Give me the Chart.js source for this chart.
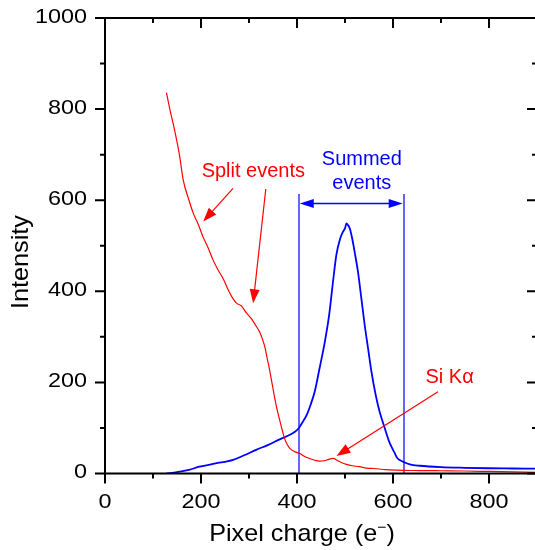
<!DOCTYPE html>
<html>
<head>
<meta charset="utf-8">
<script src="https://cdn.jsdelivr.net/npm/chart.js@4.4.1/dist/chart.umd.min.js"></script>
<style>
html,body{margin:0;padding:0;background:#fff;overflow:hidden;}
#wrap{width:545px;height:550px;position:relative;}
</style>
</head>
<body>
<div id="wrap"><canvas id="c" width="545" height="550"></canvas></div>
<script>
// ---- data ----
const splitX = [128,135,145,155,163,175,184,195,204,215,225,235,246,258,266,274,284,295,305,314,322,328,333,338,343,348,353,358,364,369,374,380,385,395,406,415,426,437,447,457,466,475,485,495,503,515,530,545,560,585,620,655,700,750,800,850,900];
const splitY = [836,800,754,700,644,600,571,545,520,495,469,448,428,400,385,374,368,352,340,325,311,295,278,252,227,198,169,143,117,96,77,63,55,48,44,38,33,29,27,28,31,33,28,23,20,17,15,12,11,8.5,7,6.5,6,5.5,4.5,3.5,2.5];
const sumX = [128,150,175,197,230,267,290,315,340,364,375,385,395,404,413,420,428,437,447,458,467,475,482,490,496,500,503,505,510,515,520,527,534,541,548,555,564,572,583,592,600,604,608,614,625,635,656,700,750,800,850,900];
const sumY = [0,3,8,15,22,30,40,52,63,75,80,85,91,100,115,128,150,180,231,289,348,421,480,516,531,538,549,547,538,516,487,443,385,326,275,224,172,136,99,70,52,44,35,29.6,24,20,17,14,12.5,11.5,11,10.5];
const xTicks = [0,200,400,600,800];
const yTicks = [0,200,400,600,800,1000];
const xMinor = [100,300,500,700,900];
const yMinor = [100,300,500,700,900];
const xTitle = "Pixel charge (e";
const yTitle = "Intensity";
// annotation anchors (data units)
const windowX = [403.7, 622.3];
const windowTop = 613.6;
const windowArrowY = 593;
const splitLabel = {text:"Split events", x:309, y:650};
const summedLabel = [{text:"Summed", x:535, y:677},{text:"events", x:535, y:624}];
const siLabel = {text:"Si K\u03B1", x:718, y:199};
const redArrows = [
  {x0:266.7, y0:626, x1:204.6, y1:553},
  {x0:335, y0:624.5, x1:308.6, y1:373.6},
  {x0:693.7, y0:179.6, x1:482.2, y1:38.4}
];

const RED = '#ff0000', BLUE = '#0000ff', LBLUE = '#6666ff';
const FONT = '"Liberation Sans", Arial, sans-serif';

function head(ctx, x0, y0, x1, y1, len, half, color){
  const a = Math.atan2(y1-y0, x1-x0);
  ctx.save();
  ctx.fillStyle = color;
  ctx.beginPath();
  ctx.moveTo(x1, y1);
  ctx.lineTo(x1 - len*Math.cos(a) + half*Math.sin(a), y1 - len*Math.sin(a) - half*Math.cos(a));
  ctx.lineTo(x1 - len*Math.cos(a) - half*Math.sin(a), y1 - len*Math.sin(a) + half*Math.cos(a));
  ctx.closePath();
  ctx.fill();
  ctx.restore();
}

const deco = {
  id:'deco',
  beforeDatasetsDraw(chart){
    const ctx = chart.ctx, xs = chart.scales.x, ys = chart.scales.y;
    ctx.save();
    ctx.strokeStyle = LBLUE; ctx.lineWidth = 2;
    windowX.forEach(v=>{
      const px = Math.round(xs.getPixelForValue(v));
      ctx.beginPath();
      ctx.moveTo(px, ys.getPixelForValue(windowTop));
      ctx.lineTo(px, ys.getPixelForValue(0));
      ctx.stroke();
    });
    ctx.restore();
  },
  afterDraw(chart){
    const ctx = chart.ctx, xs = chart.scales.x, ys = chart.scales.y, a = chart.chartArea;
    ctx.save();
    // frame
    ctx.strokeStyle = '#000'; ctx.lineWidth = 2;
    ctx.beginPath();
    ctx.moveTo(a.left, a.top); ctx.lineTo(a.right, a.top);
    ctx.lineTo(a.right, a.bottom); ctx.lineTo(a.left, a.bottom); ctx.closePath();
    ctx.stroke();
    // ticks
    const tick = (vals, len) => {
      vals.forEach(v=>{
        const px = xs.getPixelForValue(v);
        ctx.beginPath();
        ctx.moveTo(px, a.bottom); ctx.lineTo(px, a.bottom + len);
        ctx.moveTo(px, a.top); ctx.lineTo(px, a.top + len);
        ctx.stroke();
      });
    };
    tick(xTicks, 10); tick(xMinor, 5);
    const ytick = (vals, len) => {
      vals.forEach(v=>{
        const py = ys.getPixelForValue(v);
        ctx.beginPath();
        ctx.moveTo(a.left, py); ctx.lineTo(a.left - len, py);
        ctx.moveTo(a.right, py); ctx.lineTo(a.right - len, py);
        ctx.stroke();
      });
    };
    ytick(yTicks, 10); ytick(yMinor, 5);
    // tick labels
    ctx.fillStyle = '#000';
    ctx.font = '20px ' + FONT;
    ctx.textBaseline = 'middle';
    const sx = 1.17;
    xTicks.forEach(v=>{
      const px = xs.getPixelForValue(v);
      ctx.save(); ctx.translate(px, a.bottom + 29); ctx.scale(sx,1);
      ctx.textAlign = 'center'; ctx.fillText(String(v), 0, 0); ctx.restore();
    });
    yTicks.forEach(v=>{
      const py = ys.getPixelForValue(v);
      ctx.save(); ctx.translate(a.left - 18, py - 1); ctx.scale(sx,1);
      ctx.textAlign = 'right'; ctx.fillText(String(v), 0, 0); ctx.restore();
    });
    // axis titles
    ctx.font = '24px ' + FONT;
    ctx.textBaseline = 'alphabetic';
    ctx.save();
    ctx.translate(302, a.bottom + 67); ctx.scale(1.05,1);
    const w1 = ctx.measureText(xTitle).width;
    ctx.font = '15px ' + FONT;
    const w2 = ctx.measureText('\u2212').width;
    ctx.font = '24px ' + FONT;
    const w3 = ctx.measureText(')').width;
    let x0 = -(w1 + w2 + w3)/2;
    ctx.textAlign = 'left';
    ctx.fillText(xTitle, x0, 0);
    ctx.font = '15px ' + FONT;
    ctx.fillText('\u2212', x0 + w1, -9);
    ctx.font = '24px ' + FONT;
    ctx.fillText(')', x0 + w1 + w2, 0);
    ctx.restore();
    ctx.save();
    ctx.translate(28, 262); ctx.rotate(-Math.PI/2); ctx.scale(1.05,1);
    ctx.textAlign = 'center';
    ctx.fillText(yTitle, 0, 0);
    ctx.restore();
    // annotations
    ctx.font = '20px ' + FONT;
    ctx.textAlign = 'center';
    ctx.fillStyle = RED;
    ctx.fillText(splitLabel.text, xs.getPixelForValue(splitLabel.x), ys.getPixelForValue(splitLabel.y));
    ctx.fillText(siLabel.text, xs.getPixelForValue(siLabel.x), ys.getPixelForValue(siLabel.y));
    ctx.fillStyle = BLUE;
    summedLabel.forEach(l=>ctx.fillText(l.text, xs.getPixelForValue(l.x), ys.getPixelForValue(l.y)));
    // red arrows
    ctx.strokeStyle = RED; ctx.lineWidth = 1.2;
    redArrows.forEach(r=>{
      const x0p = xs.getPixelForValue(r.x0), y0p = ys.getPixelForValue(r.y0);
      const x1p = xs.getPixelForValue(r.x1), y1p = ys.getPixelForValue(r.y1);
      const ang = Math.atan2(y1p-y0p, x1p-x0p);
      ctx.beginPath(); ctx.moveTo(x0p, y0p); ctx.lineTo(x1p - 10*Math.cos(ang), y1p - 10*Math.sin(ang)); ctx.stroke();
      head(ctx, x0p, y0p, x1p, y1p, 14, 5, RED);
    });
    // double arrow
    const xa = xs.getPixelForValue(windowX[0]), xb = xs.getPixelForValue(windowX[1]);
    const ya = ys.getPixelForValue(windowArrowY);
    ctx.strokeStyle = BLUE; ctx.lineWidth = 1.5;
    ctx.beginPath(); ctx.moveTo(xa + 10, ya); ctx.lineTo(xb - 10, ya); ctx.stroke();
    head(ctx, xb, ya, xa + 1, ya, 14, 4.5, BLUE);
    head(ctx, xa, ya, xb - 1, ya, 14, 4.5, BLUE);
    ctx.restore();
  }
};

new Chart(document.getElementById('c'), {
  type: 'line',
  data: {
    datasets: [
      {label:'Split events', data: splitX.map((x,i)=>({x, y: splitY[i]})), borderColor: RED, borderWidth: 1.2, pointRadius: 0, cubicInterpolationMode: 'monotone', fill:false},
      {label:'Summed events', data: sumX.map((x,i)=>({x, y: sumY[i]})), borderColor: BLUE, borderWidth: 1.8, pointRadius: 0, cubicInterpolationMode: 'monotone', fill:false}
    ]
  },
  options: {
    responsive: false,
    animation: false,
    devicePixelRatio: 1,
    layout: {padding: {top: 18, right: 8, left: 0, bottom: 0}},
    plugins: {legend: {display:false}, tooltip: {enabled:false}},
    scales: {
      x: {type:'linear', min:0, max:900, grid:{display:false}, border:{display:false}, ticks:{display:false},
          afterBuildTicks: s => { s.ticks = xTicks.map(v=>({value:v})); },
          afterFit: s => { s.height = 76.5; }},
      y: {type:'linear', min:0, max:1000, grid:{display:false}, border:{display:false}, ticks:{display:false},
          afterBuildTicks: s => { s.ticks = yTicks.map(v=>({value:v})); },
          afterFit: s => { s.width = 105; }}
    }
  },
  plugins: [deco]
});
</script>
</body>
</html>
